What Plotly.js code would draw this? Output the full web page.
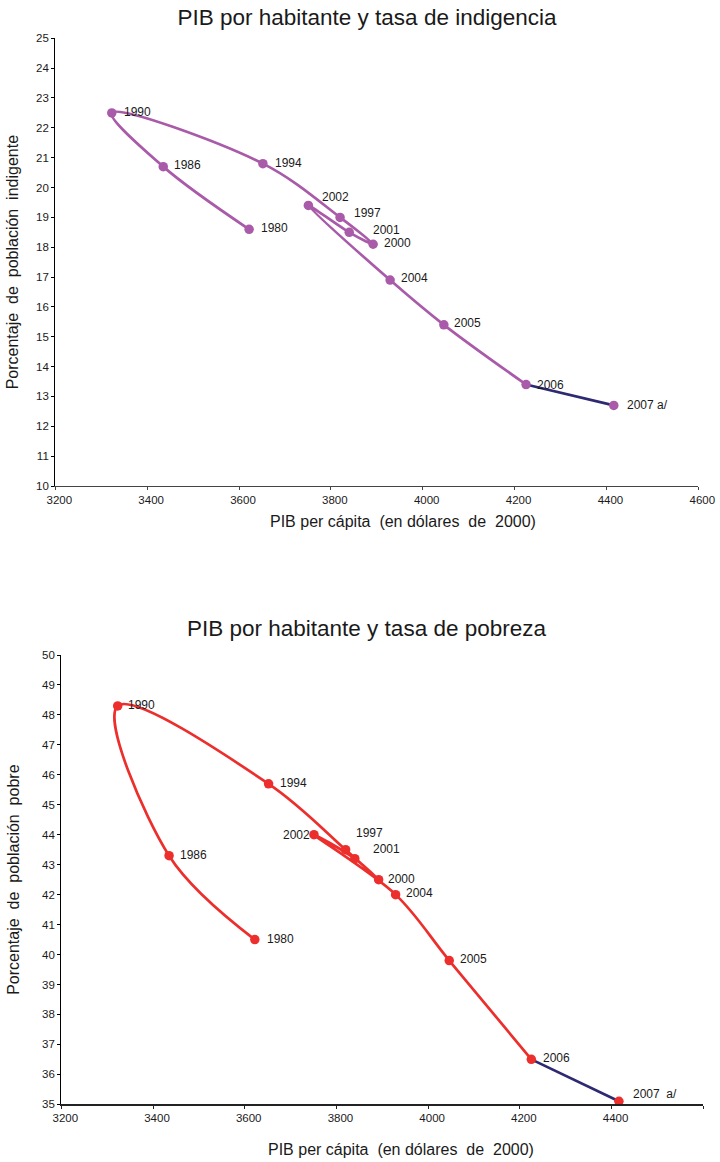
<!DOCTYPE html>
<html>
<head>
<meta charset="utf-8">
<script src="https://cdn.plot.ly/plotly-3.0.1.min.js"></script>
<style>
  html, body { margin: 0; padding: 0; background: #ffffff; }
  #chart { width: 720px; height: 1162px; }
</style>
</head>
<body>
<div id="chart"></div>
<script>
// ---- Data ----
const years = ['1980', '1986', '1990', '1994', '1997', '2000', '2001', '2002', '2004', '2005', '2006', '2007'];
const labelsTop = ['1980', '1986', '1990', '1994', '1997', '2000', '2001', '2002', '2004', '2005', '2006', '2007 a/'];
const labelsBottom = ['1980', '1986', '1990', '1994', '1997', '2000', '2001', '2002', '2004', '2005', '2006', '2007\u00A0\u00A0a/'];
const pibPerCapita = [3622, 3435, 3323, 3652, 3820, 3892, 3840, 3751, 3929, 4046, 4225, 4416];
const indigencia = [18.6, 20.7, 22.5, 20.8, 19.0, 18.1, 18.5, 19.4, 16.9, 15.4, 13.4, 12.7];
const pobreza = [40.5, 43.3, 48.3, 45.7, 43.5, 42.5, 43.2, 44.0, 42.0, 39.8, 36.5, 35.1];
const xTitle = 'PIB per cápita \u00A0(en dólares \u00A0de \u00A02000)';
const titleTop = 'PIB por habitante y tasa de indigencia';
const titleBottom = 'PIB por habitante y tasa de pobreza';
const yTitleTop = 'Porcentaje \u00A0de \u00A0población \u00A0indigente';
const yTitleBottom = 'Porcentaje \u00A0de \u00A0población \u00A0pobre';

// ---- Styles ----
const FONT = 'Liberation Sans, Arial, Helvetica, sans-serif';
const PURPLE = '#A95BA9';
const RED = '#EC2F2C';
const NAVY = '#2E2A72';
const TXT = '#1a1a1a';
// label offsets in px: [dx, dy(down), anchor]
const offTop = [[11,-1.3,'left'],[10,-1.6,'left'],[11,-0.6,'left'],[11,-1,'left'],[13,-4.4,'left'],[9.5,-1.7,'left'],[23,-2.3,'left'],[12.5,-8.4,'left'],[9.5,-1.7,'left'],[9,-1.4,'left'],[10,0,'left'],[12.5,0,'left']];
const offBottom = [[11,-0.6,'left'],[9.5,-1,'left'],[9.5,-1.3,'left'],[10.5,-1,'left'],[9.5,-16.4,'left'],[8.5,-0.7,'left'],[17,-9.3,'left'],[-3,0,'right'],[9,-1.4,'left'],[9.5,-1.6,'left'],[10.5,-1,'left'],[13,-7.4,'left']];

const nMain = years.length - 1; // 1980..2006 in the main colour; 2006-2007 in navy

function traces(yvals, mainColor, xa, ya) {
  return [
    { x: pibPerCapita.slice(0, nMain), y: yvals.slice(0, nMain), xaxis: xa, yaxis: ya, type: 'scatter', mode: 'lines',
      line: { color: mainColor, width: 2.7, shape: 'spline', smoothing: 1 }, hoverinfo: 'skip' },
    { x: pibPerCapita.slice(nMain - 1), y: yvals.slice(nMain - 1), xaxis: xa, yaxis: ya, type: 'scatter', mode: 'lines',
      line: { color: NAVY, width: 2.7, shape: 'spline', smoothing: 1 }, hoverinfo: 'skip' },
    { x: pibPerCapita, y: yvals, xaxis: xa, yaxis: ya, type: 'scatter', mode: 'markers',
      marker: { color: mainColor, size: 9.5, line: { width: 0 } }, hoverinfo: 'skip' }
  ];
}

function labelAnns(yvals, labels, offs, xa, ya) {
  return labels.map((t, i) => ({
    x: pibPerCapita[i], y: yvals[i], xref: xa, yref: ya, text: t, showarrow: false,
    xanchor: offs[i][2], yanchor: 'middle', xshift: offs[i][0], yshift: -offs[i][1],
    font: { family: FONT, size: 12, color: TXT }, borderpad: 0
  }));
}

const data = [].concat(
  traces(indigencia, PURPLE, 'x', 'y'),
  traces(pobreza, RED, 'x2', 'y2')
);

const H = 1162, W = 720;
function xaxisCfg(d0, d1, anchor, lineColor) {
  return {
    domain: [d0 / W, d1 / W], anchor: anchor, range: [3200, 4600], dtick: 200, tick0: 3200,
    showgrid: false, zeroline: false, showline: true, linecolor: lineColor, linewidth: 1.3,
    ticks: 'outside', ticklen: 3, tickcolor: lineColor, tickwidth: 1, ticklabelshift: 4,
    tickfont: { family: FONT, size: 11.5, color: TXT },
    fixedrange: true
  };
}
function yaxisCfg(pTop, pBot, anchor, r0, r1, titleText, standoff) {
  return {
    domain: [1 - pBot / H, 1 - pTop / H], anchor: anchor, range: [r0, r1], dtick: 1, tick0: r0,
    showgrid: false, zeroline: false, showline: true, linecolor: '#000000', linewidth: 1.2,
    ticks: 'outside', ticklen: 3, tickcolor: '#000000', tickwidth: 1,
    tickfont: { family: FONT, size: 11.5, color: TXT },
    title: { text: titleText, standoff: standoff, font: { family: FONT, size: 16, color: TXT } },
    fixedrange: true
  };
}

function paperText(text, px, py, size) {
  return { text: text, xref: 'paper', yref: 'paper', x: px / W, y: 1 - py / H,
    xanchor: 'center', yanchor: 'middle', showarrow: false,
    font: { family: FONT, size: size, color: TXT } };
}

const layout = {
  width: W, height: H,
  margin: { l: 0, r: 0, t: 0, b: 0 },
  paper_bgcolor: '#ffffff', plot_bgcolor: '#ffffff',
  showlegend: false, hovermode: false,
  title: { text: titleTop, x: 367 / W, xanchor: 'center',
    y: 1 - 17.5 / H, yanchor: 'middle', xref: 'paper', yref: 'paper',
    font: { family: FONT, size: 22.5, color: TXT } },
  xaxis: xaxisCfg(55.3, 698.3, 'y', '#444444'),
  yaxis: yaxisCfg(38.3, 486, 'x', 10, 25, yTitleTop, 13),
  xaxis2: xaxisCfg(61.3, 703.3, 'y2', '#222222'),
  yaxis2: yaxisCfg(655, 1104.3, 'x2', 35, 50, yTitleBottom, 18),
  annotations: [
    paperText(titleBottom, 366.5, 628, 22.5),
    paperText(xTitle, 403, 521, 16),
    paperText(xTitle, 401, 1149, 16)
  ].concat(
    labelAnns(indigencia, labelsTop, offTop, 'x', 'y'),
    labelAnns(pobreza, labelsBottom, offBottom, 'x2', 'y2')
  )
};

Plotly.newPlot('chart', data, layout, { displayModeBar: false, staticPlot: true });
</script>
</body>
</html>
